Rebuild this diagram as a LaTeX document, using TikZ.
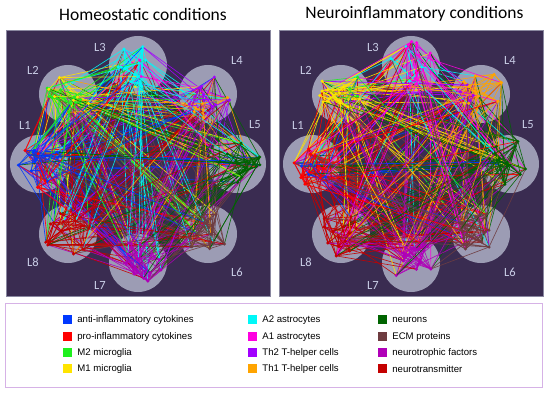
\documentclass[tikz,border=0pt]{standalone}
\usepackage{fontspec}
\setmainfont{Carlito}
\newfontfamily\legfont{Liberation Sans}
\usetikzlibrary{positioning}
\definecolor{panelbg}{HTML}{3A2C51}
\definecolor{panelrim}{HTML}{8A88A0}
\definecolor{layergray}{HTML}{9C9CB4}
\definecolor{lnamecol}{HTML}{C9CDE6}
\definecolor{legrim}{HTML}{D6B2E6}
\definecolor{antiinf}{HTML}{0038FF}
\definecolor{proinf}{HTML}{FF0000}
\definecolor{mtwo}{HTML}{1EF01E}
\definecolor{mone}{HTML}{FFE400}
\definecolor{atwo}{HTML}{00F8F8}
\definecolor{aone}{HTML}{FF00E0}
\definecolor{thtwo}{HTML}{A200FF}
\definecolor{thone}{HTML}{FFA400}
\definecolor{neuron}{HTML}{006400}
\definecolor{ecm}{HTML}{6E3C40}
\definecolor{ntroph}{HTML}{B000B8}
\definecolor{ntrans}{HTML}{C40000}

\begin{document}
\begin{tikzpicture}[x=1pt, y=-1pt,
        panel/.style={fill=panelbg, draw=panelrim, line width=0.6pt},
        layer/.style={circle, fill=layergray, minimum size=58pt, inner sep=0pt},
        lname/.style={text=lnamecol, inner sep=0pt, font=\fontsize{12.5}{14}\selectfont},
        title/.style={inner sep=0pt, font=\fontsize{17.5}{20}\selectfont},
        edge/.style={line width=0.65pt, opacity=0.9},
        swatch/.style={minimum size=9pt, inner sep=0pt},
        legtext/.style={inner sep=0pt, font=\legfont\fontsize{9.6}{11}\selectfont}
      ]
        \useasboundingbox (0,0) rectangle (550,398);
        \pgfmathsetseed{11}

        \node[title] (htitle) at (143,14) {Homeostatic conditions};
        \node[title] (ntitle) at (414.5,14) {Neuroinflammatory conditions};

        \foreach \pn/\dx/\lst in {h/0/{1/antiinf/proinf/10,2/mtwo/mone/8,3/atwo/aone/12,4/thtwo/thone/8,
                                        5/neuron/neuron/14,6/ecm/ecm/14,7/ntroph/ntroph/14,8/ntrans/ntrans/14},
                                  n/273/{1/antiinf/proinf/4,2/mtwo/mone/3,3/atwo/aone/4,4/thtwo/thone/4,
                                        5/neuron/neuron/14,6/ecm/ecm/14,7/ntroph/ntroph/14,8/ntrans/ntrans/14}}{
          \draw[panel] (\dx+6,30) rectangle (\dx+270,296);
          % layers and their members
          \foreach \l/\ca/\cb/\k in \lst {
            \pgfmathsetmacro\ang{180-45*(\l-1)}
            \pgfmathsetmacro\cx{\dx+138+99*cos(\ang)}
            \pgfmathsetmacro\cy{164-99*sin(\ang)}
            \node[layer] (\pn L\l) at (\cx,\cy) {};
            \foreach \j in {1,...,14}{
              \pgfmathsetmacro\rr{24*sqrt(rnd)}
              \pgfmathsetmacro\ra{360*rnd}
              \coordinate (\pn\l-\j) at ({\cx+\rr*cos(\ra)},{\cy+\rr*sin(\ra)});
              \ifnum\j>\k\relax
                \global\expandafter\let\csname \pn c\l-\j\endcsname\cb
              \else
                \global\expandafter\let\csname \pn c\l-\j\endcsname\ca
              \fi
            }
          }
          \foreach \l/\lx/\ly in {1/25/125,2/33/70,3/100/47,4/237/60,5/255/125,6/237/272,7/100/285,8/33/262}
            \node[lname] (\pn lab\l) at ({\dx+\lx},\ly) {L\l};
          % interactions
          \foreach \e in {1,...,800}{
            \pgfmathrandominteger{\sl}{1}{8}
            \pgfmathrandominteger{\sj}{1}{14}
            \pgfmathparse{int(rnd<0.4 ? \sl : random(1,8))}\let\tl\pgfmathresult
            \pgfmathrandominteger{\tj}{1}{14}
            \edef\ecol{\csname \pn c\sl-\sj\endcsname}
            \draw[edge, draw=\ecol] (\pn\sl-\sj) -- (\pn\tl-\tj);
          }
          \foreach \l in {1,...,8}
            \foreach \j in {1,...,14}{
              \edef\ecol{\csname \pn c\l-\j\endcsname}
              \fill[\ecol] (\pn\l-\j) circle (1.7);
            }
        }

        % legend
        \draw[legrim, line width=0.8pt, fill=white] (5,303) rectangle (542,387);
        \foreach \col/\txt/\lx/\ly in {antiinf/anti-inflammatory cytokines/63/320, proinf/pro-inflammatory cytokines/63/337,
                                       mtwo/M2 microglia/63/353, mone/M1 microglia/63/369,
                                       atwo/A2 astrocytes/248/320, aone/A1 astrocytes/248/337,
                                       thtwo/Th2 T-helper cells/248/353, thone/Th1 T-helper cells/248/369,
                                       neuron/neurons/378/320, ecm/ECM proteins/378/337,
                                       ntroph/neurotrophic factors/378/353, ntrans/neurotransmitter/378/369}{
          \node[swatch, fill=\col] (sw-\col) at (\lx+4.5,\ly) {};
          \node[legtext, right=5pt of sw-\col] (lt-\col) {\txt};
        }
      \end{tikzpicture}
\end{document}
